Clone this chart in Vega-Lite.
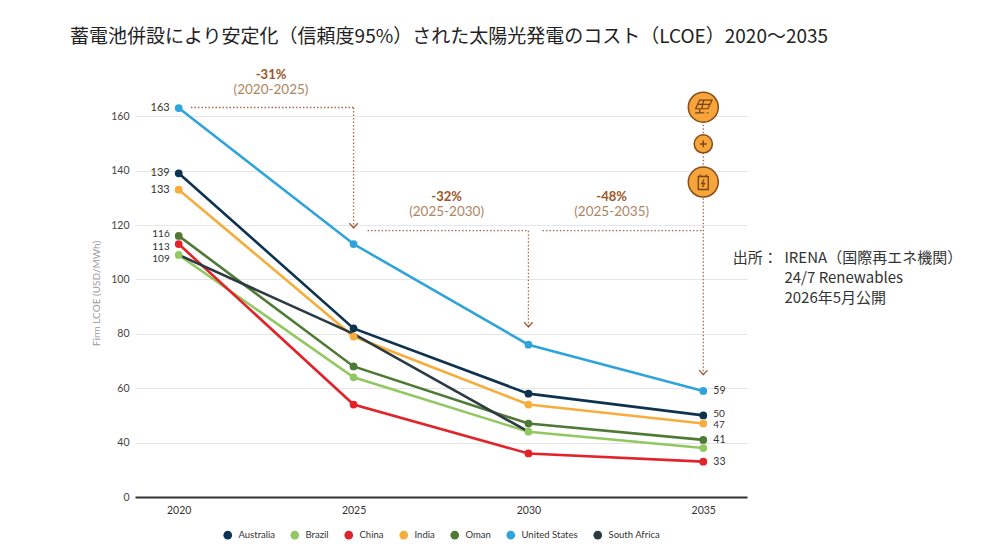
{
  "$schema": "https://vega.github.io/schema/vega-lite/v6.json",
  "width": 612,
  "height": 408,
  "autosize": {"type": "none"},
  "padding": {"left": 135, "top": 89, "right": 253, "bottom": 63},
  "background": "white",
  "config": {
    "view": {"stroke": null},
    "font": "Lato",
    "text": {"font": "Lato"}
  },
  "title": {
    "text": "蓄電池併設により安定化（信頼度95%）された太陽光発電のコスト（LCOE）2020〜2035",
    "font": "Noto Sans CJK JP",
    "fontSize": 19,
    "fontWeight": "normal",
    "color": "#222222",
    "anchor": "start",
    "frame": "group",
    "dx": -65,
    "offset": 22
  },
  "datasets": {
    "lcoe": [
      {"country": "Australia", "year": 2020, "value": 139},
      {"country": "Australia", "year": 2025, "value": 82},
      {"country": "Australia", "year": 2030, "value": 58},
      {"country": "Australia", "year": 2035, "value": 50},
      {"country": "Brazil", "year": 2020, "value": 109},
      {"country": "Brazil", "year": 2025, "value": 64},
      {"country": "Brazil", "year": 2030, "value": 44},
      {"country": "Brazil", "year": 2035, "value": 38},
      {"country": "China", "year": 2020, "value": 113},
      {"country": "China", "year": 2025, "value": 54},
      {"country": "China", "year": 2030, "value": 36},
      {"country": "China", "year": 2035, "value": 33},
      {"country": "India", "year": 2020, "value": 133},
      {"country": "India", "year": 2025, "value": 79},
      {"country": "India", "year": 2030, "value": 54},
      {"country": "India", "year": 2035, "value": 47},
      {"country": "Oman", "year": 2020, "value": 116},
      {"country": "Oman", "year": 2025, "value": 68},
      {"country": "Oman", "year": 2030, "value": 47},
      {"country": "Oman", "year": 2035, "value": 41},
      {"country": "United States", "year": 2020, "value": 163},
      {"country": "United States", "year": 2025, "value": 113},
      {"country": "United States", "year": 2030, "value": 76},
      {"country": "United States", "year": 2035, "value": 59},
      {"country": "South Africa", "year": 2020, "value": 109},
      {"country": "South Africa", "year": 2025, "value": 80},
      {"country": "South Africa", "year": 2030, "value": 44}
    ],
    "segments": [
      {"x": 2020.35, "x2": 2025, "y": 163.2, "y2": 163.2},
      {"x": 2025, "x2": 2025, "y": 163.2, "y2": 119.2},
      {"x": 2025.4, "x2": 2030, "y": 117.9, "y2": 117.9},
      {"x": 2030, "x2": 2030, "y": 117.9, "y2": 82.8},
      {"x": 2030.4, "x2": 2035, "y": 117.9, "y2": 117.9},
      {"x": 2035, "x2": 2035, "y": 163.3, "y2": 65.2}
    ],
    "heads": [
      {"x": 2025, "y": 119.8},
      {"x": 2030, "y": 83.4},
      {"x": 2035, "y": 65.8}
    ],
    "notes": [
      {"x": 2022.64, "y": 175.3, "text": "-31%", "kind": "pct"},
      {"x": 2022.64, "y": 169.8, "text": "(2020-2025)", "kind": "range"},
      {"x": 2027.66, "y": 130.4, "text": "-32%", "kind": "pct"},
      {"x": 2027.66, "y": 124.6, "text": "(2025-2030)", "kind": "range"},
      {"x": 2032.38, "y": 130.4, "text": "-48%", "kind": "pct"},
      {"x": 2032.38, "y": 124.6, "text": "(2025-2035)", "kind": "range"}
    ],
    "icons": [
      {"x": 2035, "y": 163.3, "kind": "solar"},
      {"x": 2035, "y": 149.8, "kind": "plus"},
      {"x": 2035, "y": 135.8, "kind": "battery"}
    ],
    "source": [
      {"x": 2035.84, "y": 108.0, "text": "出所："},
      {"x": 2037.32, "y": 108.0, "text": "IRENA（国際再エネ機関）"},
      {"x": 2037.32, "y": 100.6, "text": "24/7 Renewables"},
      {"x": 2037.32, "y": 93.2, "text": "2026年5月公開"}
    ]
  },
  "layer": [
    {
      "data": {"name": "lcoe"},
      "mark": {"type": "line", "strokeWidth": 2.6},
      "encoding": {
        "x": {
          "field": "year",
          "type": "quantitative",
          "scale": {"domain": [2018.75, 2036.25], "nice": false, "zero": false},
          "axis": {
            "title": null,
            "values": [2020, 2025, 2030, 2035],
            "format": "d",
            "grid": false,
            "domain": false,
            "ticks": false,
            "labelPadding": 8,
            "labelFontSize": 10.5,
            "labelColor": "#333333",
            "labelFont": "Lato"
          }
        },
        "y": {
          "field": "value",
          "type": "quantitative",
          "scale": {"domain": [20, 170], "nice": false, "zero": false},
          "axis": {
            "title": "Firm LCOE (USD/MWh)",
            "titleFontSize": 10,
            "titleFontWeight": "normal",
            "titleColor": "#9a9a9a",
            "titleFont": "Lato",
            "titlePadding": 9,
            "values": [20, 40, 60, 80, 100, 120, 140, 160],
            "labelExpr": "datum.value == 20 ? '0' : datum.label",
            "labelFontSize": 10.5,
            "labelColor": "#444444",
            "labelFont": "Lato",
            "labelPadding": 6,
            "domain": false,
            "ticks": false,
            "gridColor": {"condition": {"test": "datum.value == 20", "value": "#333333"}, "value": "#e6e6e6"},
            "gridWidth": {"condition": {"test": "datum.value == 20", "value": 1.8}, "value": 1}
          }
        },
        "color": {
          "field": "country",
          "type": "nominal",
          "scale": {
            "domain": ["Australia", "Brazil", "China", "India", "Oman", "United States", "South Africa"],
            "range": ["#0e3350", "#92c861", "#e2232a", "#f6ad3c", "#4e7a36", "#2ea4da", "#2c3a42"]
          },
          "legend": {
            "title": null,
            "orient": "none",
            "direction": "horizontal",
            "legendX": 88,
            "legendY": 441,
            "symbolType": "circle",
            "symbolSize": 75,
            "symbolStrokeWidth": 0,
            "symbolOpacity": 1,
            "labelFontSize": 9.5,
            "labelColor": "#333333",
            "labelFont": "Lato",
            "labelOffset": 6,
            "columnPadding": 15
          }
        }
      }
    },
    {
      "data": {"name": "lcoe"},
      "transform": [{"filter": "datum.country != 'South Africa'"}],
      "mark": {"type": "circle", "size": 60, "opacity": 1},
      "encoding": {
        "x": {"field": "year", "type": "quantitative"},
        "y": {"field": "value", "type": "quantitative"},
        "color": {"field": "country", "type": "nominal"}
      }
    },
    {
      "data": {"name": "lcoe"},
      "transform": [{"filter": "datum.year == 2020 && datum.value > 120"}],
      "mark": {"type": "text", "align": "right", "baseline": "middle", "dx": -9, "fontSize": 11, "color": "#333333"},
      "encoding": {
        "x": {"field": "year", "type": "quantitative"},
        "y": {"field": "value", "type": "quantitative"},
        "text": {"field": "value"}
      }
    },
    {
      "data": {"name": "lcoe"},
      "transform": [{"filter": "datum.year == 2020 && datum.value == 116"}],
      "mark": {"type": "text", "align": "right", "baseline": "middle", "dx": -9, "dy": -1.5, "fontSize": 10, "color": "#333333"},
      "encoding": {
        "x": {"field": "year", "type": "quantitative"},
        "y": {"field": "value", "type": "quantitative"},
        "text": {"field": "value"}
      }
    },
    {
      "data": {"name": "lcoe"},
      "transform": [{"filter": "datum.year == 2020 && datum.value == 113"}],
      "mark": {"type": "text", "align": "right", "baseline": "middle", "dx": -9, "dy": 2.5, "fontSize": 10, "color": "#333333"},
      "encoding": {
        "x": {"field": "year", "type": "quantitative"},
        "y": {"field": "value", "type": "quantitative"},
        "text": {"field": "value"}
      }
    },
    {
      "data": {"name": "lcoe"},
      "transform": [{"filter": "datum.year == 2020 && datum.country == 'Brazil'"}],
      "mark": {"type": "text", "align": "right", "baseline": "middle", "dx": -9, "dy": 4, "fontSize": 10, "color": "#333333"},
      "encoding": {
        "x": {"field": "year", "type": "quantitative"},
        "y": {"field": "value", "type": "quantitative"},
        "text": {"field": "value"}
      }
    },
    {
      "data": {"name": "lcoe"},
      "transform": [{"filter": "datum.year == 2035 && datum.country != 'Brazil' && datum.country != 'Australia' && datum.country != 'India'"}],
      "mark": {"type": "text", "align": "left", "baseline": "middle", "dx": 10, "fontSize": 10.5, "color": "#333333"},
      "encoding": {
        "x": {"field": "year", "type": "quantitative"},
        "y": {"field": "value", "type": "quantitative"},
        "text": {"field": "value"}
      }
    },
    {
      "data": {"name": "lcoe"},
      "transform": [{"filter": "datum.year == 2035 && datum.country == 'Australia'"}],
      "mark": {"type": "text", "align": "left", "baseline": "middle", "dx": 10, "dy": -1.5, "fontSize": 10, "color": "#333333"},
      "encoding": {
        "x": {"field": "year", "type": "quantitative"},
        "y": {"field": "value", "type": "quantitative"},
        "text": {"field": "value"}
      }
    },
    {
      "data": {"name": "lcoe"},
      "transform": [{"filter": "datum.year == 2035 && datum.country == 'India'"}],
      "mark": {"type": "text", "align": "left", "baseline": "middle", "dx": 10, "dy": 1.5, "fontSize": 10, "color": "#333333"},
      "encoding": {
        "x": {"field": "year", "type": "quantitative"},
        "y": {"field": "value", "type": "quantitative"},
        "text": {"field": "value"}
      }
    },
    {
      "data": {"name": "segments"},
      "mark": {"type": "rule", "color": "#a86b45", "strokeWidth": 1.3, "strokeDash": [1.5, 2]},
      "encoding": {
        "x": {"field": "x", "type": "quantitative"},
        "x2": {"field": "x2"},
        "y": {"field": "y", "type": "quantitative"},
        "y2": {"field": "y2"}
      }
    },
    {
      "data": {"name": "heads"},
      "mark": {"type": "point", "shape": "M-1,-0.55L0,0.55L1,-0.55", "filled": false, "size": 70, "color": "#a0603a", "strokeWidth": 1.4, "opacity": 1},
      "encoding": {
        "x": {"field": "x", "type": "quantitative"},
        "y": {"field": "y", "type": "quantitative"}
      }
    },
    {
      "data": {"name": "notes"},
      "transform": [{"filter": "datum.kind == 'pct'"}],
      "mark": {"type": "text", "align": "center", "baseline": "middle", "fontSize": 13, "fontWeight": "bold", "color": "#9c5526"},
      "encoding": {
        "x": {"field": "x", "type": "quantitative"},
        "y": {"field": "y", "type": "quantitative"},
        "text": {"field": "text"}
      }
    },
    {
      "data": {"name": "notes"},
      "transform": [{"filter": "datum.kind == 'range'"}],
      "mark": {"type": "text", "align": "center", "baseline": "middle", "fontSize": 13.5, "color": "#b0845f"},
      "encoding": {
        "x": {"field": "x", "type": "quantitative"},
        "y": {"field": "y", "type": "quantitative"},
        "text": {"field": "text"}
      }
    },
    {
      "data": {"name": "icons"},
      "transform": [{"filter": "datum.kind != 'plus'"}],
      "mark": {"type": "circle", "size": 900, "fill": "#f5a53a", "stroke": "#8a4b1c", "strokeWidth": 1.5, "opacity": 1},
      "encoding": {
        "x": {"field": "x", "type": "quantitative"},
        "y": {"field": "y", "type": "quantitative"}
      }
    },
    {
      "data": {"name": "icons"},
      "transform": [{"filter": "datum.kind == 'plus'"}],
      "mark": {"type": "circle", "size": 330, "fill": "#f5a53a", "stroke": "#8a4b1c", "strokeWidth": 1.5, "opacity": 1},
      "encoding": {
        "x": {"field": "x", "type": "quantitative"},
        "y": {"field": "y", "type": "quantitative"}
      }
    },
    {
      "data": {"name": "icons"},
      "transform": [{"filter": "datum.kind == 'plus'"}],
      "mark": {"type": "point", "shape": "M-0.55,0L0.55,0M0,-0.55L0,0.55", "filled": false, "size": 150, "color": "#7a4018", "strokeWidth": 1.4, "opacity": 1},
      "encoding": {
        "x": {"field": "x", "type": "quantitative"},
        "y": {"field": "y", "type": "quantitative"}
      }
    },
    {
      "data": {"name": "icons"},
      "transform": [{"filter": "datum.kind == 'solar'"}],
      "mark": {"type": "point", "shape": "M-0.35,-0.7L0.85,-0.7L0.45,0.15L-0.75,0.15ZM-0.55,-0.28L0.65,-0.28M0.05,-0.7L-0.15,0.15M-0.35,0.15L-0.35,0.55M-0.8,0.55L0.1,0.55M0.35,0.55L0.5,0.55", "filled": false, "size": 420, "color": "#7a4018", "strokeWidth": 1.2, "opacity": 1},
      "encoding": {
        "x": {"field": "x", "type": "quantitative"},
        "y": {"field": "y", "type": "quantitative"}
      }
    },
    {
      "data": {"name": "icons"},
      "transform": [{"filter": "datum.kind == 'battery'"}],
      "mark": {"type": "point", "shape": "M-0.5,-0.55L0.5,-0.55L0.5,0.75L-0.5,0.75ZM-0.28,-0.55L-0.28,-0.75M0.28,-0.55L0.28,-0.75M0.08,-0.25L-0.15,0.15L0.12,0.15L-0.08,0.5", "filled": false, "size": 400, "color": "#7a4018", "strokeWidth": 1.3, "opacity": 1},
      "encoding": {
        "x": {"field": "x", "type": "quantitative"},
        "y": {"field": "y", "type": "quantitative"}
      }
    },
    {
      "data": {"name": "source"},
      "mark": {"type": "text", "align": "left", "baseline": "middle", "font": "Noto Sans CJK JP", "fontSize": 15, "color": "#333333"},
      "encoding": {
        "x": {"field": "x", "type": "quantitative"},
        "y": {"field": "y", "type": "quantitative"},
        "text": {"field": "text"}
      }
    }
  ]
}
